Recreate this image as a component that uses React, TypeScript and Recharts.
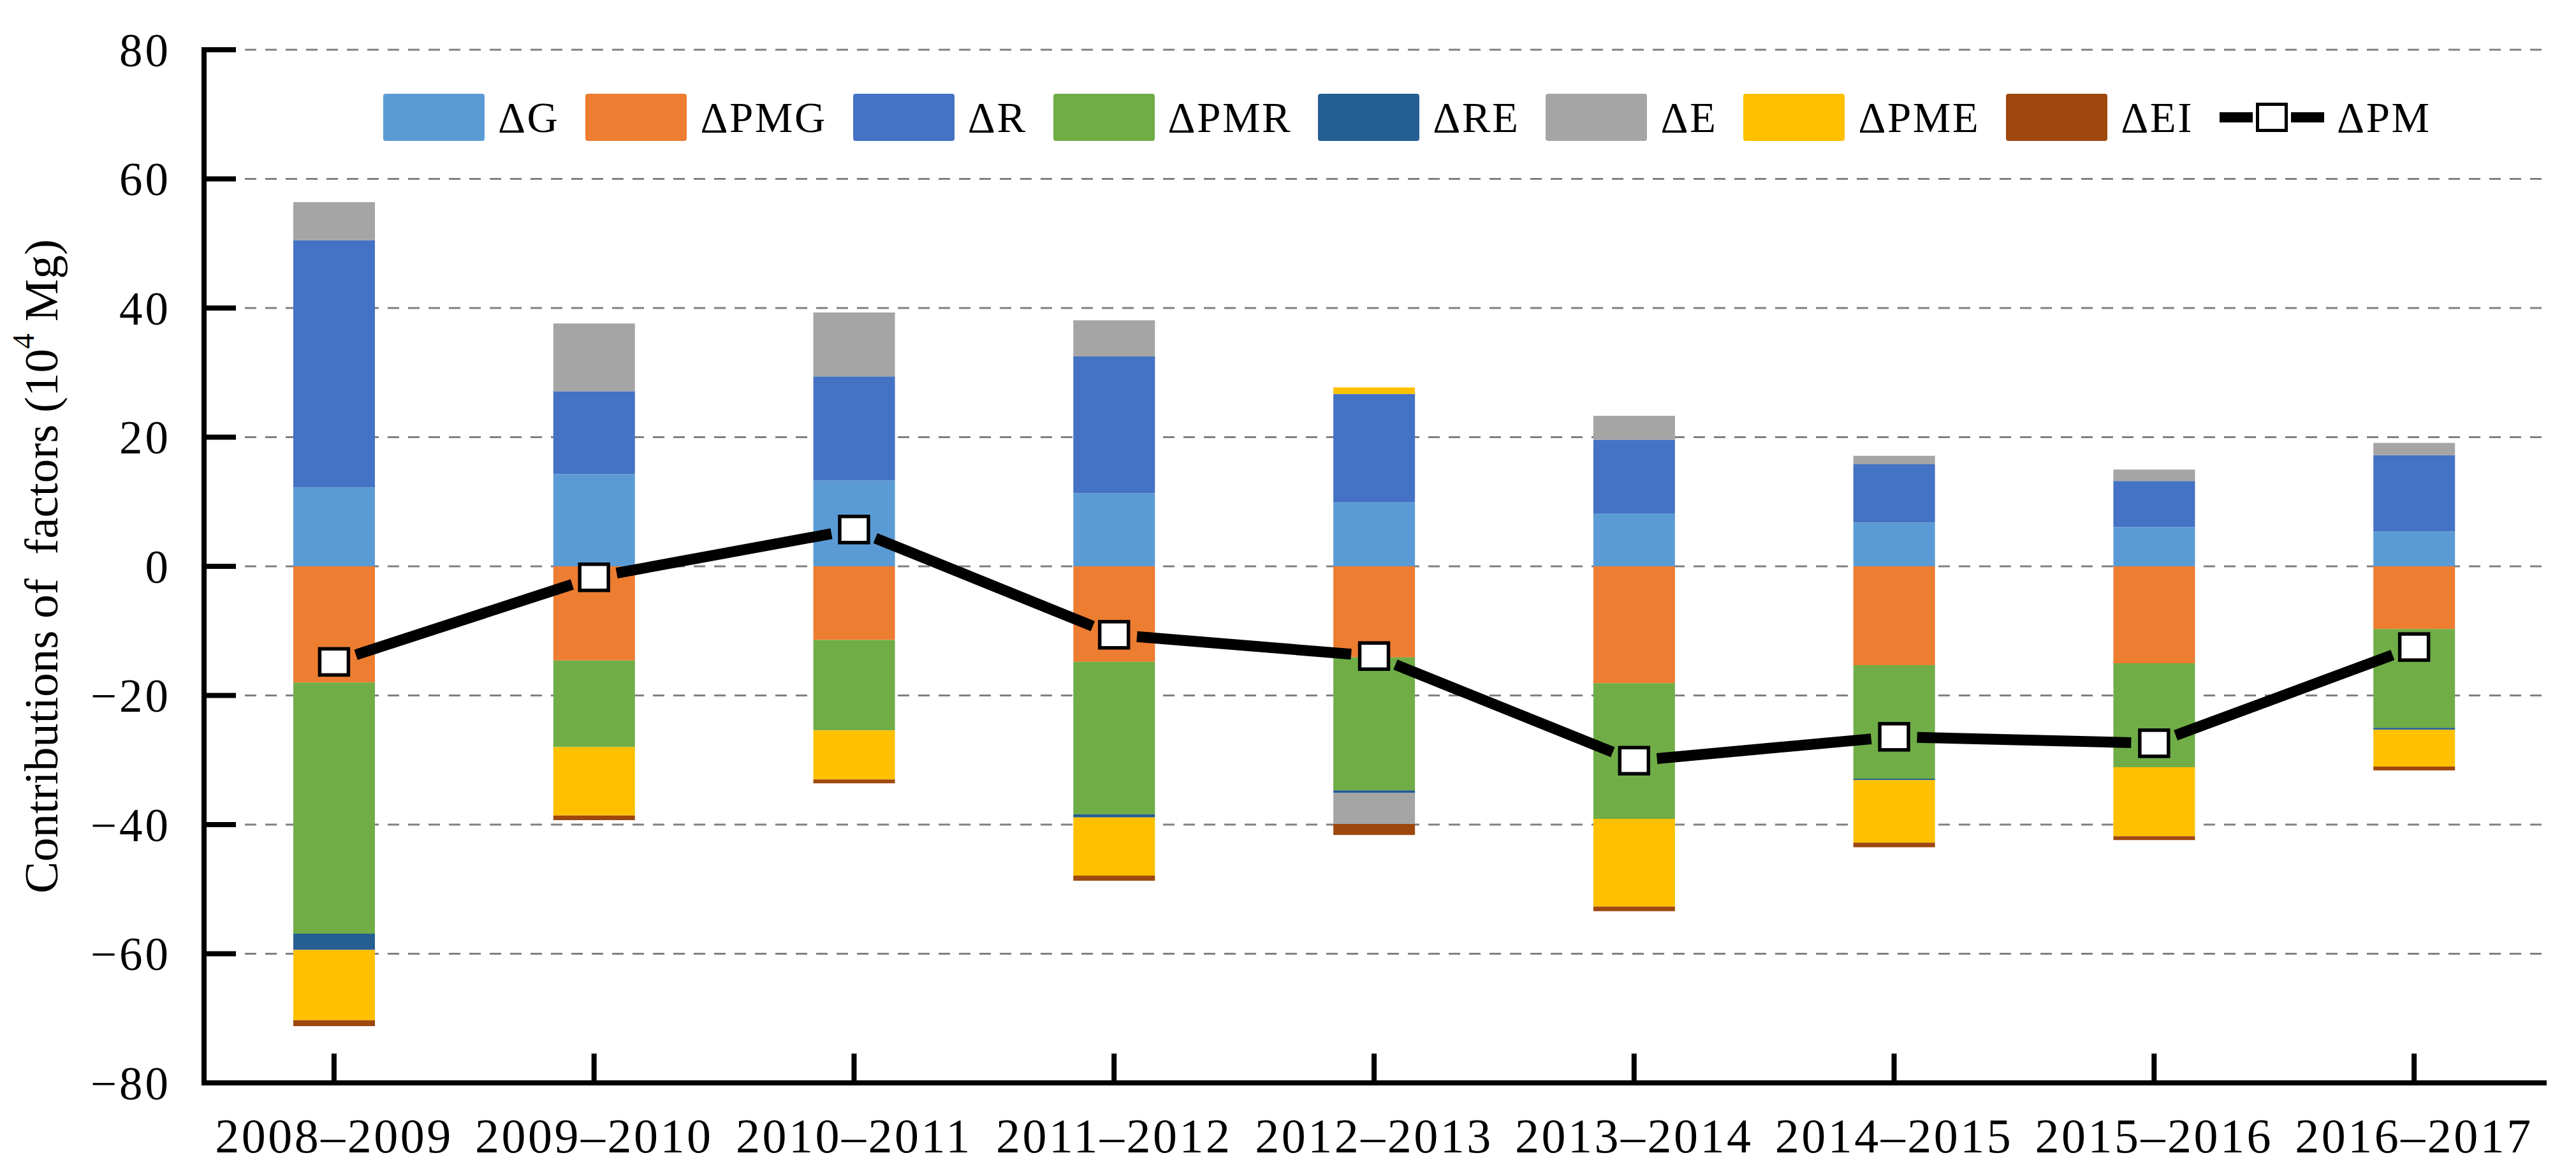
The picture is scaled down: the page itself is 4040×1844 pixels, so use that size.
import React from 'react';
import { ComposedChart, Bar, Line, XAxis, YAxis, CartesianGrid, Legend } from 'recharts';

const FONT = '"Liberation Serif", "Times New Roman", Times, serif';

const categories = ['2008–2009', '2009–2010', '2010–2011', '2011–2012', '2012–2013', '2013–2014', '2014–2015', '2015–2016', '2016–2017'];
const dG = [12.2, 14.3, 13.3, 11.3, 9.9, 8.2, 6.8, 6.1, 5.4];
const dPMG = [-18.0, -14.6, -11.4, -14.8, -14.1, -18.1, -15.3, -15.0, -9.7];
const dR = [38.3, 12.8, 16.1, 21.2, 16.8, 11.4, 9.0, 7.1, 11.8];
const dPMR = [-38.9, -13.4, -14.0, -23.6, -20.6, -21.0, -17.6, -16.1, -15.3];
const dRE = [-2.5, 0, 0, -0.5, -0.4, 0, -0.2, 0, -0.3];
const dE = [5.9, 10.5, 9.9, 5.6, -4.8, 3.7, 1.3, 1.8, 1.9];
const dPME = [-10.9, -10.6, -7.6, -9.0, 1.0, -13.6, -9.7, -10.7, -5.7];
const dEI = [-0.9, -0.7, -0.6, -0.8, -1.7, -0.7, -0.7, -0.6, -0.6];
const dPM = [-14.8, -1.7, 5.7, -10.6, -13.9, -30.1, -26.4, -27.4, -12.5];

const seriesKeys = ['g', 'pmg', 'r', 'pmr', 're', 'e', 'pme', 'ei'];
const seriesNames = ['ΔG', 'ΔPMG', 'ΔR', 'ΔPMR', 'ΔRE', 'ΔE', 'ΔPME', 'ΔEI'];
const seriesColors = ['#5B9BD5', '#ED7D31', '#4472C4', '#70AD47', '#255E91', '#A5A5A5', '#FFC000', '#9E480E'];
const lineName = 'ΔPM';
const yTicks = [-80, -60, -40, -20, 0, 20, 40, 60, 80];
const yTitleMain = 'Contributions of  factors (10';
const yTitleSup = '4';
const yTitleEnd = ' Mg)';

const seriesValues = [dG, dPMG, dR, dPMR, dRE, dE, dPME, dEI];
const data = categories.map((cat, i) => {
  const row: any = { cat, pm: dPM[i] };
  seriesKeys.forEach((k, j) => { row[k] = seriesValues[j][i]; });
  return row;
});

const fmtY = (v: number) => (v < 0 ? '\u2212' + Math.abs(v) : String(v));

const YTitle = (props: any) => {
  const vb = props.viewBox || { x: 0, y: 78, width: 320, height: 1620 };
  const cx = vb.x + 90;
  const cy = vb.y + vb.height / 2;
  return (
    <text x={cx} y={cy} transform={`rotate(-90 ${cx} ${cy})`} textAnchor="middle" fontFamily={FONT} fontSize={75} fill="#000" style={{ whiteSpace: 'pre' }}>
      <tspan>{yTitleMain}</tspan>
      <tspan fontSize={48} dy={-37}>{yTitleSup}</tspan>
      <tspan dy={37}>{yTitleEnd}</tspan>
    </text>
  );
};

const renderPmDot = (props: any) => {
  const { cx, cy, index, points } = props;
  let seg = null;
  if (points && index < points.length - 1) {
    const nx = points[index + 1].x;
    const ny = points[index + 1].y;
    const dx = nx - cx;
    const dy = ny - cy;
    const len = Math.sqrt(dx * dx + dy * dy) || 1;
    const ux = dx / len;
    const uy = dy / len;
    const gap = 36;
    seg = (
      <line x1={cx + ux * gap} y1={cy + uy * gap} x2={nx - ux * gap} y2={ny - uy * gap} stroke="#000" strokeWidth={17} strokeLinecap="butt" />
    );
  }
  return (
    <g key={`pmdot-${index}`}>
      {seg}
      <rect x={cx - 22.5} y={cy - 20.5} width={45} height={41} fill="#fff" stroke="#000" strokeWidth={5.5} />
    </g>
  );
};

const LegendContent = () => (
  <div style={{ display: 'flex', alignItems: 'center', height: 74, fontFamily: FONT, fontSize: 67, letterSpacing: 2.5, color: '#000', whiteSpace: 'nowrap' }}>
    {seriesNames.map((n, i) => (
      <div key={n} style={{ display: 'flex', alignItems: 'center', marginRight: 41 }}>
        <div style={{ width: 159, height: 74, background: seriesColors[i], borderRadius: 4, marginRight: 21 }} />
        <span style={{ lineHeight: '74px' }}>{n}</span>
      </div>
    ))}
    <div style={{ display: 'flex', alignItems: 'center' }}>
      <svg width={164} height={50} style={{ display: 'block' }}>
        <rect x={0} y={17} width={52} height={16} fill="#000" />
        <rect x={112} y={17} width={52} height={16} fill="#000" />
        <rect x={59.5} y={4.5} width={45} height={41} fill="#fff" stroke="#000" strokeWidth={5} />
      </svg>
      <span style={{ marginLeft: 20, lineHeight: '74px' }}>{lineName}</span>
    </div>
  </div>
);

const axisLineStyle = { stroke: '#000', strokeWidth: 8, strokeLinecap: 'square' as const };

export default function App() {
  return (
    <div style={{ position: 'absolute', left: 0, top: 0, width: 4040, height: 1844, background: '#fff' }}>
      <ComposedChart width={4040} height={1844} data={data} stackOffset="sign" margin={{ top: 78, right: 50, left: 0, bottom: 0 }}>
        <CartesianGrid vertical={false} stroke="#808080" strokeWidth={3} strokeDasharray="18 14" />
        <XAxis
          dataKey="cat"
          height={146}
          interval={0}
          axisLine={axisLineStyle}
          tickLine={{ stroke: '#000', strokeWidth: 8 }}
          tickSize={-46}
          tickMargin={101}
          tick={{ fontSize: 76, fontFamily: FONT, fill: '#000', letterSpacing: 3.5 }}
        />
        <XAxis xAxisId="top" dataKey="cat" orientation="top" height={0} tick={false} tickLine={false} axisLine={axisLineStyle} />
        <YAxis
          width={320}
          domain={[-80, 80]}
          ticks={yTicks}
          interval={0}
          tickFormatter={fmtY}
          axisLine={axisLineStyle}
          tickLine={{ stroke: '#000', strokeWidth: 8 }}
          tickSize={-50}
          tickMargin={102}
          tick={{ fontSize: 73, fontFamily: FONT, fill: '#000', letterSpacing: 4 }}
          label={<YTitle />}
        />
        <YAxis yAxisId="right" orientation="right" width={0} domain={[-80, 80]} tick={false} tickLine={false} axisLine={axisLineStyle} />
        <Legend layout="horizontal" verticalAlign="middle" align="center" wrapperStyle={{ top: 147, left: 601, width: 3400, height: 74 }} content={<LegendContent />} />
        {seriesKeys.map((k, i) => (
          <Bar key={k} dataKey={k} name={seriesNames[i]} stackId="s" fill={seriesColors[i]} barSize={128} isAnimationActive={false} />
        ))}
        <Line dataKey="pm" name={lineName} stroke="none" dot={renderPmDot} activeDot={false} legendType="none" isAnimationActive={false} />
      </ComposedChart>
    </div>
  );
}
